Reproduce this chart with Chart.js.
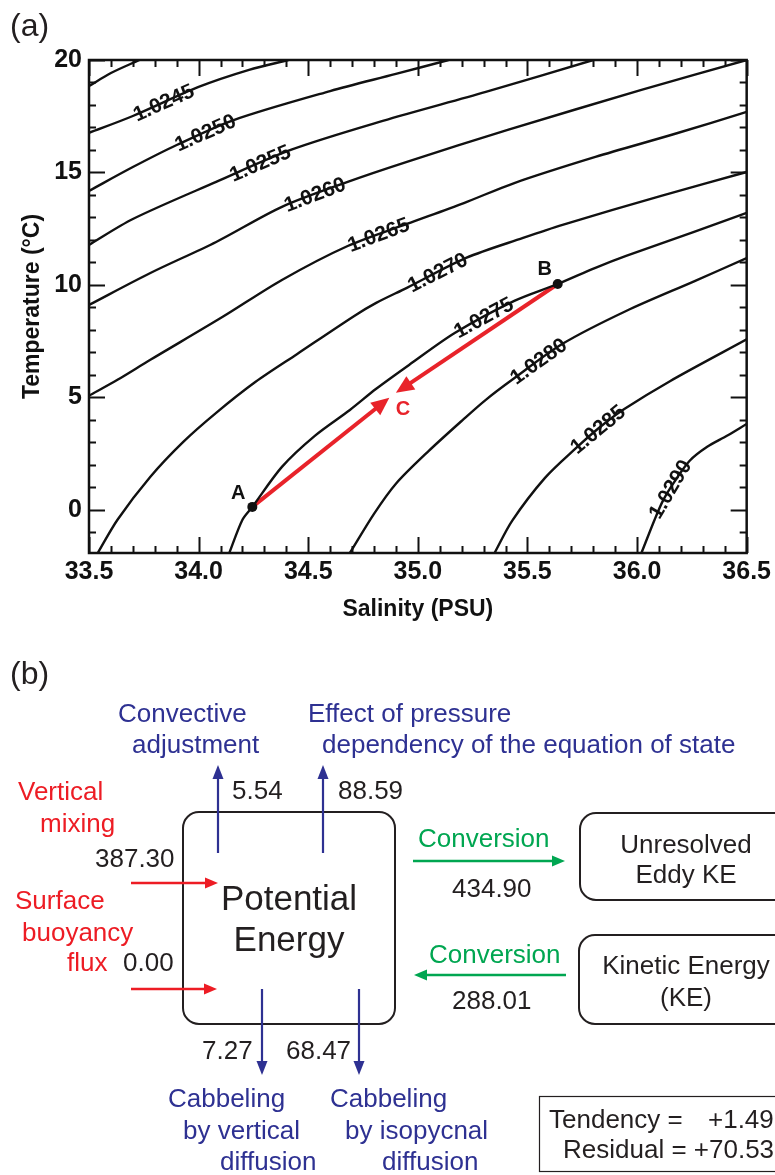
<!DOCTYPE html>
<html>
<head>
<meta charset="utf-8">
<script src="https://cdn.jsdelivr.net/npm/chart.js@4.4.1/dist/chart.umd.min.js"></script>
<style>
  html, body { margin: 0; padding: 0; background: #fff; }
  #wrap { position: relative; width: 775px; height: 1175px; }
</style>
</head>
<body>
<div id="wrap"><canvas id="tsChart"></canvas></div>
<script>
// ---------- panel (a): isopycnals in T-S space ----------
const xTickValues = [33.5, 34.0, 34.5, 35.0, 35.5, 36.0, 36.5];
const yTickValues = [0, 5, 10, 15, 20];

// density contours, [salinity, temperature]
const iso10240 = [[33.50, 18.84], [33.60, 19.42], [33.73, 20.00]];
const iso10245 = [[33.50, 16.76], [33.70, 17.51], [34.00, 18.80], [34.23, 19.56], [34.41, 20.00]];
const iso10250 = [[33.50, 14.18], [33.70, 15.24], [33.90, 16.22], [34.16, 17.33], [34.60, 18.62], [34.90, 19.38], [35.14, 20.00]];
const iso10255 = [[33.50, 11.78], [33.70, 12.93], [34.08, 14.58], [34.42, 16.00], [34.84, 17.29], [35.31, 18.58], [35.80, 20.00]];
const iso10260 = [[33.50, 9.11], [33.78, 10.53], [34.08, 11.91], [34.38, 13.47], [34.68, 14.58], [34.95, 15.47], [35.41, 16.89], [36.02, 18.67], [36.50, 20.00]];
const iso10265 = [[33.50, 5.07], [33.63, 5.78], [33.78, 6.67], [34.11, 8.58], [34.38, 10.22], [34.68, 11.73], [34.95, 12.71], [35.21, 13.64], [35.44, 14.53], [35.81, 15.69], [36.17, 16.71], [36.50, 17.69]];
const iso10270 = [[33.54, -1.92], [33.63, -0.44], [33.78, 1.47], [33.93, 3.02], [34.08, 4.31], [34.26, 5.69], [34.45, 6.93], [34.71, 8.62], [34.81, 9.20], [34.95, 9.87], [35.22, 11.20], [35.48, 12.09], [35.66, 12.67], [36.11, 13.96], [36.50, 15.02]];
const iso10275 = [[34.14, -1.92], [34.20, -0.44], [34.245, 0.13], [34.38, 1.91], [34.53, 3.29], [34.69, 4.44], [34.81, 5.38], [34.96, 6.44], [35.17, 7.87], [35.44, 9.29], [35.638, 10.04], [35.81, 10.76], [35.95, 11.29], [36.26, 12.36], [36.50, 13.20]];
const iso10280 = [[34.69, -1.92], [34.80, -0.18], [34.90, 1.16], [35.05, 2.62], [35.21, 4.04], [35.31, 4.89], [35.43, 5.78], [35.66, 7.38], [35.95, 8.84], [36.26, 10.16], [36.50, 11.19]];
const iso10285 = [[35.35, -1.92], [35.43, -0.49], [35.58, 1.42], [35.72, 2.73], [35.83, 3.67], [35.94, 4.47], [36.15, 5.72], [36.50, 7.58]];
const iso10290 = [[36.02, -1.92], [36.08, -0.44], [36.12, 0.44], [36.17, 1.24], [36.24, 2.18], [36.32, 2.80], [36.41, 3.29], [36.50, 3.82]];

const contours = [iso10240, iso10245, iso10250, iso10255, iso10260, iso10265, iso10270, iso10275, iso10280, iso10285, iso10290];
const contourLevels = ['1.0240', '1.0245', '1.0250', '1.0255', '1.0260', '1.0265', '1.0270', '1.0275', '1.0280', '1.0285', '1.0290'];
// salinity where each inline label sits (null = not labelled)
const contourLabelS = [null, 33.84, 34.03, 34.28, 34.53, 34.82, 35.09, 35.30, 35.55, 35.82, 36.15];

// water masses A and B, and the tips of the mixing arrows (C)
const mixNames = ['A', 'B'];
const mixS = [34.245, 35.638];
const mixT = [0.13, 10.04];
const mixTipS = [34.87, 34.90];
const mixTipT = [4.98, 5.20];

// ---------- panel (b): potential energy budget ----------
const reservoirNames = [['Potential', 'Energy'], ['Unresolved', 'Eddy KE'], ['Kinetic Energy', '(KE)']];
const upSinkNames = [['Convective', 'adjustment'], ['Effect of pressure', 'dependency of the equation of state']];
const upSinkValues = [5.54, 88.59];
const sourceNames = [['Vertical', 'mixing'], ['Surface', 'buoyancy', 'flux']];
const sourceValues = [387.30, 0.00];
const downSinkNames = [['Cabbeling', 'by vertical', 'diffusion'], ['Cabbeling', 'by isopycnal', 'diffusion']];
const downSinkValues = [7.27, 68.47];
const conversionNames = ['Conversion', 'Conversion'];
const conversionValues = [434.90, 288.01];
const budgetNames = ['Tendency', 'Residual'];
const budgetValues = [1.49, 70.53];

const NARROW = "'Liberation Sans Narrow', 'Arial Narrow', 'Liberation Sans', Arial, sans-serif";
const SANS = "'Liberation Sans', Arial, Helvetica, sans-serif";
const INK = '#111';
const BLUE = '#2e3192', RED = '#ed1c24', GREEN = '#00a651', TXT = '#231f20';

function drawArrow(ctx, x1, y1, x2, y2, color, lw, headLen, headHalf) {
  const a = Math.atan2(y2 - y1, x2 - x1);
  const bx = x2 - headLen * Math.cos(a), by = y2 - headLen * Math.sin(a);
  ctx.strokeStyle = color;
  ctx.lineWidth = lw;
  ctx.beginPath();
  ctx.moveTo(x1, y1);
  ctx.lineTo(bx + 2 * Math.cos(a), by + 2 * Math.sin(a));
  ctx.stroke();
  ctx.fillStyle = color;
  ctx.beginPath();
  ctx.moveTo(x2, y2);
  ctx.lineTo(bx + headHalf * Math.sin(a), by - headHalf * Math.cos(a));
  ctx.lineTo(bx - headHalf * Math.sin(a), by + headHalf * Math.cos(a));
  ctx.closePath();
  ctx.fill();
}

function roundRect(ctx, x, y, w, h, r) {
  ctx.beginPath();
  ctx.moveTo(x + r, y);
  ctx.lineTo(x + w - r, y);
  ctx.arcTo(x + w, y, x + w, y + r, r);
  ctx.lineTo(x + w, y + h - r);
  ctx.arcTo(x + w, y + h, x + w - r, y + h, r);
  ctx.lineTo(x + r, y + h);
  ctx.arcTo(x, y + h, x, y + h - r, r);
  ctx.lineTo(x, y + r);
  ctx.arcTo(x, y, x + r, y, r);
  ctx.closePath();
}

function yAlong(pix, px) {
  for (let j = 0; j < pix.length - 1; j++) {
    const a = pix[j], b = pix[j + 1];
    if (px >= a[0] && px <= b[0]) {
      const t = (px - a[0]) / (b[0] - a[0]);
      return a[1] + t * (b[1] - a[1]);
    }
  }
  return null;
}

// contour labels, mixing arrows, letters (drawn just before the A/B dots)
const tsMarks = {
  id: 'tsMarks',
  beforeDatasetDraw(chart, args) {
    if (args.index !== contours.length) return;
    const { ctx, scales: { x, y } } = chart;
    ctx.save();
    // inline labels
    ctx.font = 'bold 21px ' + NARROW;
    ctx.textAlign = 'center';
    ctx.textBaseline = 'middle';
    contours.forEach((pts, i) => {
      const s = contourLabelS[i];
      if (s === null) return;
      const pix = pts.map(p => [x.getPixelForValue(p[0]), y.getPixelForValue(p[1])]);
      const px = x.getPixelForValue(s);
      const py = yAlong(pix, px);
      const ang = Math.atan2(yAlong(pix, px + 12) - yAlong(pix, px - 12), 24);
      const w = ctx.measureText(contourLevels[i]).width;
      ctx.save();
      ctx.translate(px, py);
      ctx.rotate(ang);
      ctx.fillStyle = '#fff';
      ctx.fillRect(-w / 2 - 3, -8, w + 6, 16);
      ctx.fillStyle = INK;
      ctx.fillText(contourLevels[i], 0, 1);
      ctx.restore();
    });
    // mixing arrows A -> C and B -> C
    mixS.forEach((s, i) => {
      drawArrow(ctx, x.getPixelForValue(s), y.getPixelForValue(mixT[i]),
        x.getPixelForValue(mixTipS[i]), y.getPixelForValue(mixTipT[i]), '#e8232a', 4, 18, 8);
    });
    ctx.font = 'bold 20px ' + NARROW;
    ctx.fillStyle = INK;
    ctx.fillText(mixNames[0], x.getPixelForValue(mixS[0]) - 14, y.getPixelForValue(mixT[0]) - 13);
    ctx.fillText(mixNames[1], x.getPixelForValue(mixS[1]) - 13, y.getPixelForValue(mixT[1]) - 15);
    ctx.fillStyle = '#e8232a';
    ctx.fillText('C', x.getPixelForValue(mixTipS[1]) + 7, y.getPixelForValue(mixTipT[1]) + 17);
    ctx.restore();
  },
  afterDatasetsDraw(chart) {
    const { ctx, chartArea: { left, right, top, bottom }, scales: { x, y } } = chart;
    ctx.save();
    ctx.strokeStyle = INK;
    ctx.lineWidth = 2.5;
    ctx.strokeRect(left, top, right - left, bottom - top);
    ctx.lineWidth = 2;
    ctx.beginPath();
    for (let k = 0; k <= 30; k++) {
      const v = 33.5 + k * 0.1;
      const len = k % 5 === 0 ? 16 : 7;
      const px = Math.round(x.getPixelForValue(v)) + 0.5;
      ctx.moveTo(px, bottom); ctx.lineTo(px, bottom - len);
      ctx.moveTo(px, top); ctx.lineTo(px, top + len);
    }
    for (let v = -1; v <= 20; v++) {
      const len = v % 5 === 0 ? 16 : 7;
      const py = Math.round(y.getPixelForValue(v)) + 0.5;
      ctx.moveTo(left, py); ctx.lineTo(left + len, py);
      ctx.moveTo(right, py); ctx.lineTo(right - len, py);
    }
    ctx.stroke();
    ctx.restore();
  }
};

// panel titles and the energy diagram of panel (b)
const panelB = {
  id: 'panelB',
  afterDraw(chart) {
    const ctx = chart.ctx;
    ctx.save();
    ctx.fillStyle = TXT;
    ctx.textBaseline = 'alphabetic';
    ctx.textAlign = 'left';
    ctx.font = '32px ' + SANS;
    ctx.fillText('(a)', 10, 36);
    ctx.fillText('(b)', 10, 684);

    const text = (s, xx, yy, color, align) => {
      ctx.fillStyle = color;
      ctx.textAlign = align || 'left';
      ctx.fillText(s, xx, yy);
    };

    // reservoirs
    ctx.strokeStyle = TXT;
    ctx.lineWidth = 2;
    roundRect(ctx, 183, 812, 212, 212, 16); ctx.stroke();
    roundRect(ctx, 580, 813, 220, 87, 16); ctx.stroke();
    roundRect(ctx, 579, 935, 221, 89, 16); ctx.stroke();
    ctx.lineWidth = 1.2;
    ctx.strokeRect(539.5, 1096.5, 260, 75);

    ctx.font = '35px ' + SANS;
    text(reservoirNames[0][0], 289, 910, TXT, 'center');
    text(reservoirNames[0][1], 289, 951, TXT, 'center');
    ctx.font = '26px ' + SANS;
    text(reservoirNames[1][0], 686, 853, TXT, 'center');
    text(reservoirNames[1][1], 686, 883, TXT, 'center');
    text(reservoirNames[2][0], 686, 974, TXT, 'center');
    text(reservoirNames[2][1], 686, 1006, TXT, 'center');

    // sinks through the top
    drawArrow(ctx, 218, 853, 218, 765, BLUE, 2.2, 14, 5.5);
    drawArrow(ctx, 323, 853, 323, 765, BLUE, 2.2, 14, 5.5);
    text(upSinkNames[0][0], 118, 722, BLUE);
    text(upSinkNames[0][1], 132, 753, BLUE);
    text(upSinkNames[1][0], 308, 722, BLUE);
    text(upSinkNames[1][1], 322, 753, BLUE);
    text(upSinkValues[0].toFixed(2), 232, 799, TXT);
    text(upSinkValues[1].toFixed(2), 338, 799, TXT);

    // sources from the left
    drawArrow(ctx, 131, 883, 218, 883, RED, 2.5, 13, 5.5);
    drawArrow(ctx, 131, 989, 217, 989, RED, 2.5, 13, 5.5);
    text(sourceNames[0][0], 18, 800, RED);
    text(sourceNames[0][1], 40, 832, RED);
    text(sourceValues[0].toFixed(2), 95, 867, TXT);
    text(sourceNames[1][0], 15, 909, RED);
    text(sourceNames[1][1], 22, 941, RED);
    text(sourceNames[1][2], 67, 971, RED);
    text(sourceValues[1].toFixed(2), 123, 971, TXT);

    // sinks through the bottom
    drawArrow(ctx, 262, 989, 262, 1075, BLUE, 2.2, 14, 5.5);
    drawArrow(ctx, 359, 989, 359, 1075, BLUE, 2.2, 14, 5.5);
    text(downSinkValues[0].toFixed(2), 202, 1059, TXT);
    text(downSinkValues[1].toFixed(2), 286, 1059, TXT);
    [[168, 183, 220], [330, 345, 382]].forEach((xs, i) => {
      downSinkNames[i].forEach((s, k) => text(s, xs[k], 1107 + k * 31.5, BLUE));
    });

    // conversions
    drawArrow(ctx, 413, 861, 565, 861, GREEN, 2.5, 13, 5.5);
    drawArrow(ctx, 566, 975, 414, 975, GREEN, 2.5, 13, 5.5);
    text(conversionNames[0], 418, 847, GREEN);
    text(conversionValues[0].toFixed(2), 452, 897, TXT);
    text(conversionNames[1], 429, 963, GREEN);
    text(conversionValues[1].toFixed(2), 452, 1009, TXT);

    // budget
    text(budgetNames[0] + ' =', 549, 1128, TXT);
    text('+' + budgetValues[0].toFixed(2), 708, 1128, TXT);
    text(budgetNames[1] + ' = +' + budgetValues[1].toFixed(2), 563, 1158, TXT);
    ctx.restore();
  }
};

const contourDatasets = contours.map((pts, i) => ({
  label: contourLevels[i],
  data: pts.map(p => ({ x: p[0], y: p[1] })),
  showLine: true,
  borderColor: INK,
  borderWidth: 2.4,
  pointRadius: 0,
  tension: 0.3,
  fill: false
}));

const mixDataset = {
  label: 'A / B',
  data: mixS.map((s, i) => ({ x: s, y: mixT[i] })),
  showLine: false,
  pointRadius: 5,
  backgroundColor: INK,
  borderWidth: 0
};

const axisFont = { family: NARROW, size: 25, weight: 'bold' };
const titleFont = { family: NARROW, size: 23, weight: 'bold' };

new Chart(document.getElementById('tsChart'), {
  type: 'scatter',
  data: { datasets: [...contourDatasets, mixDataset] },
  options: {
    responsive: true,
    maintainAspectRatio: false,
    devicePixelRatio: 1,
    animation: false,
    layout: { padding: { top: 60, right: 21, bottom: 552, left: 0 } },
    plugins: { legend: { display: false }, tooltip: { enabled: false } },
    scales: {
      x: {
        type: 'linear',
        min: 33.5,
        max: 36.5,
        afterBuildTicks: s => { s.ticks = xTickValues.map(v => ({ value: v })); },
        afterFit: s => { s.height = 70; },
        grid: { display: false, drawTicks: false },
        border: { display: false },
        ticks: { autoSkip: false, maxRotation: 0, padding: 4, color: INK, font: axisFont, callback: v => v.toFixed(1) },
        title: { display: true, text: 'Salinity (PSU)', color: INK, font: titleFont, padding: { top: 0, bottom: 0 } }
      },
      y: {
        type: 'linear',
        min: -1.92,
        max: 20,
        afterBuildTicks: s => { s.ticks = yTickValues.map(v => ({ value: v })); },
        afterFit: s => { s.width = 89; },
        grid: { display: false, drawTicks: false },
        border: { display: false },
        ticks: { autoSkip: false, padding: 7, color: INK, font: axisFont, callback: v => String(v) },
        title: { display: true, text: 'Temperature (°C)', color: INK, font: titleFont, padding: { top: 19, bottom: 0 } }
      }
    }
  },
  plugins: [tsMarks, panelB]
});
</script>
</body>
</html>
